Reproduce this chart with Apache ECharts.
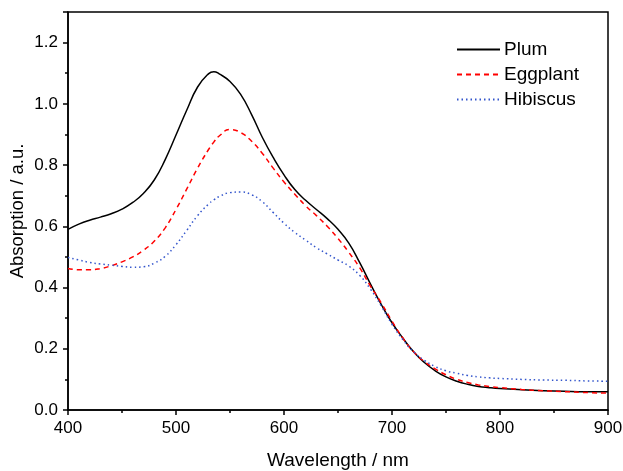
<!DOCTYPE html>
<html>
<head>
<meta charset="utf-8">
<script src="https://cdn.jsdelivr.net/npm/echarts@6/dist/echarts.min.js"></script>
<style>
  html, body { margin: 0; padding: 0; background: #fff; }
  #main { width: 623px; height: 471px; }
</style>
</head>
<body>
<div id="main"></div>
<script>
  // wavelength (nm)
  var wavelength = [400, 410, 420, 430, 440, 450, 460, 470, 480, 490, 500, 510, 520, 530, 535, 540, 550, 560, 570, 580, 590,
    600, 610, 620, 630, 640, 650, 660, 670, 680, 690, 700, 710, 720, 730, 740, 750, 760, 770, 780, 790,
    800, 820, 840, 860, 880, 900]
  var plum = [0.590, 0.607, 0.620, 0.630, 0.641, 0.656, 0.678, 0.708, 0.752, 0.818, 0.898, 0.980, 1.055, 1.098, 1.105, 1.098, 1.073, 1.030, 0.965, 0.890, 0.825,
    0.768, 0.720, 0.685, 0.655, 0.625, 0.590, 0.545, 0.482, 0.412, 0.345, 0.285, 0.235, 0.190, 0.155, 0.128, 0.108, 0.094, 0.084, 0.077, 0.073,
    0.070, 0.066, 0.063, 0.061, 0.060, 0.060]
  var eggplant = [0.462, 0.458, 0.458, 0.462, 0.471, 0.484, 0.500, 0.522, 0.552, 0.595, 0.655, 0.722, 0.790, 0.850, 0.875, 0.895, 0.916, 0.906, 0.878, 0.838, 0.790,
    0.745, 0.705, 0.667, 0.635, 0.600, 0.560, 0.515, 0.465, 0.405, 0.350, 0.290, 0.235, 0.190, 0.158, 0.134, 0.115, 0.100, 0.090, 0.082, 0.077,
    0.073, 0.067, 0.063, 0.060, 0.057, 0.055]
  var hibiscus = [0.498, 0.490, 0.482, 0.477, 0.473, 0.469, 0.466, 0.468, 0.480, 0.502, 0.540, 0.587, 0.635, 0.672, 0.686, 0.697, 0.710, 0.712, 0.703, 0.680, 0.645,
    0.610, 0.580, 0.555, 0.530, 0.510, 0.490, 0.470, 0.440, 0.395, 0.340, 0.280, 0.230, 0.190, 0.162, 0.142, 0.128, 0.120, 0.113, 0.108, 0.105,
    0.103, 0.100, 0.098, 0.097, 0.095, 0.094]

  function pairs(ys) {
    var out = []
    for (var i = 0; i < wavelength.length; i++) {
      out.push([wavelength[i], ys[i]])
    }
    return out
  }

  var font = 'Liberation Sans, Arial, sans-serif'
  var chart = echarts.init(document.getElementById('main'))
  chart.setOption({
    animation: false,
    textStyle: { fontFamily: font },
    grid: {
      left: 68,
      right: 15,
      top: 12,
      bottom: 61,
      outerBoundsMode: 'none',
      show: true,
      borderColor: '#000',
      borderWidth: 1.5,
    },
    legend: {
      left: 451,
      top: 35,
      orient: 'vertical',
      itemWidth: 43,
      itemHeight: 14,
      itemGap: 6,
      itemStyle: { opacity: 0 },
      textStyle: { fontSize: 19, color: '#000', fontFamily: font, padding: [0, 0, 0, -1] },
      data: ['Plum', 'Eggplant', 'Hibiscus'],
    },
    xAxis: {
      type: 'value',
      min: 400,
      max: 900,
      interval: 100,
      name: 'Wavelength / nm',
      nameLocation: 'middle',
      nameGap: 41,
      nameMoveOverlap: false,
      nameTextStyle: { fontSize: 19, color: '#000', fontFamily: font },
      axisLine: { lineStyle: { color: '#000', width: 1.5 } },
      axisTick: { length: 5, lineStyle: { color: '#000', width: 1.5 } },
      minorTick: { show: true, splitNumber: 2, length: 3, lineStyle: { color: '#000', width: 1.5 } },
      axisLabel: { fontSize: 17, color: '#000', margin: 10, fontFamily: font },
      splitLine: { show: false },
    },
    yAxis: {
      type: 'value',
      min: 0,
      max: 1.3,
      interval: 0.2,
      name: 'Absorption / a.u.',
      nameLocation: 'middle',
      nameGap: 41,
      nameMoveOverlap: false,
      nameTextStyle: { fontSize: 18.5, color: '#000', fontFamily: font },
      axisLine: { lineStyle: { color: '#000', width: 1.5 } },
      axisTick: { length: 5, lineStyle: { color: '#000', width: 1.5 } },
      minorTick: { show: true, splitNumber: 2, length: 3, lineStyle: { color: '#000', width: 1.5 } },
      axisLabel: {
        fontSize: 17,
        color: '#000',
        margin: 10,
        fontFamily: font,
        showMaxLabel: false,
        formatter: function (v) {
          return v > 1.25 ? '' : v.toFixed(1)
        },
      },
      splitLine: { show: false },
    },
    series: [
      {
        name: 'Plum',
        type: 'line',
        smooth: 0.5,
        symbol: 'none',
        lineStyle: { color: '#000', width: 1.5, type: 'solid' },
        itemStyle: { color: '#000' },
        data: pairs(plum),
      },
      {
        name: 'Eggplant',
        type: 'line',
        smooth: 0.5,
        symbol: 'none',
        lineStyle: { color: '#ff0000', width: 1.5, type: [5, 4] },
        itemStyle: { color: '#ff0000' },
        data: pairs(eggplant),
      },
      {
        name: 'Hibiscus',
        type: 'line',
        smooth: 0.5,
        symbol: 'none',
        lineStyle: { color: '#3355cc', width: 1.5, type: [1.5, 3] },
        itemStyle: { color: '#3355cc' },
        data: pairs(hibiscus),
      },
    ],
  })
</script>
</body>
</html>
